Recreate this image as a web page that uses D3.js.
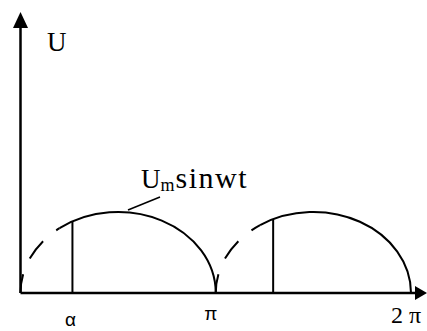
<!DOCTYPE html>
<html lang="en">
<head>
<meta charset="UTF-8">
<title>Rectified sine</title>
<script src="https://d3js.org/d3.v7.min.js"></script>
<style>
  body { margin: 0; background: #fff; }
  svg { display: block; }
  .serif { font-family: "Liberation Serif", "Times New Roman", Times, "DejaVu Serif", serif; }
  .sans { font-family: "Liberation Sans", Arial, "DejaVu Sans", sans-serif; }
</style>
</head>
<body>
<svg id="chart" width="427" height="331"></svg>
<script>
'use strict';

const PI = Math.PI;

// half waves: start / end in wt, firing angle alpha, where dashed part stops
const waveStart = [0, PI];
const waveEnd = [PI, 2 * PI];
const alphaAt = [0.266 * PI, 1.294 * PI];
const dashTo = [0.2 * PI, 1.227 * PI];
const amplitude = 1;

// axis labels
const tickNames = ['α', 'π', '2 π'];
const tickValues = [alphaAt[0], PI, 2 * PI];

const svg = d3.select('#chart');
const x = d3.scaleLinear().domain([0, 2 * PI]).range([20.5, 411]);
const y = d3.scaleLinear().domain([0, 1]).range([293, 212]);

// height of an arch (drawn as half ellipse) at a given wt
function archY(t, i) {
    const mid = (waveStart[i] + waveEnd[i]) / 2;
    const half = (waveEnd[i] - waveStart[i]) / 2;
    const u = (t - mid) / half;
    return amplitude * Math.sqrt(Math.max(0, 1 - u * u));
}

function arcPath(i, t0, t1) {
    const rx = (x(waveEnd[i]) - x(waveStart[i])) / 2;
    const ry = y(0) - y(amplitude);
    return `M${x(t0)},${y(archY(t0, i))} A${rx},${ry} 0 0 1 ${x(t1)},${y(archY(t1, i))}`;
}

const g = svg.append('g').attr('fill', 'none').attr('stroke', '#000');

waveStart.forEach((s, i) => {
    // dashed rise
    g.append('path')
        .attr('d', arcPath(i, s, dashTo[i]))
        .attr('stroke-width', 2)
        .attr('stroke-dasharray', '19 17 22 17');
    // solid part
    g.append('path')
        .attr('d', arcPath(i, dashTo[i], waveEnd[i]))
        .attr('stroke-width', 2);
    // firing line
    g.append('line')
        .attr('x1', x(alphaAt[i])).attr('x2', x(alphaAt[i]))
        .attr('y1', y(0)).attr('y2', y(archY(alphaAt[i], i)))
        .attr('stroke-width', 2);
});

// axes
g.append('line')
    .attr('x1', x(0)).attr('x2', 418)
    .attr('y1', y(0)).attr('y2', y(0))
    .attr('stroke-width', 2.5);
g.append('line')
    .attr('x1', x(0)).attr('x2', x(0))
    .attr('y1', y(0)).attr('y2', 26)
    .attr('stroke-width', 2.5);

svg.append('path')
    .attr('d', `M${x(0)},12 L${x(0) - 7.5},28 L${x(0) + 7.5},28 Z`)
    .attr('fill', '#000');
svg.append('path')
    .attr('d', `M427,${y(0)} L415,${y(0) - 7} L415,${y(0) + 7} Z`)
    .attr('fill', '#000');

// leader for the curve label
g.append('line')
    .attr('x1', 128).attr('y1', 210)
    .attr('x2', 160).attr('y2', 197)
    .attr('stroke-width', 1.5);

// texts
svg.append('text')
    .attr('class', 'serif')
    .attr('x', 47).attr('y', 51)
    .attr('font-size', 27)
    .text('U');

const lab = svg.append('text')
    .attr('class', 'serif')
    .attr('x', 141).attr('y', 188)
    .attr('font-size', 27);
lab.append('tspan').text('U');
lab.append('tspan').attr('font-size', 18).attr('dy', 3).text('m');
lab.append('tspan').attr('dy', -3).attr('dx', 1).attr('font-size', 30)
    .attr('letter-spacing', 1.5).text('sinwt');

svg.append('text')
    .attr('class', 'sans')
    .attr('x', x(tickValues[0]) - 2).attr('y', 326)
    .attr('text-anchor', 'middle')
    .attr('font-size', 19)
    .text(tickNames[0]);

svg.append('text')
    .attr('class', 'sans')
    .attr('x', x(tickValues[1]) - 5).attr('y', 320)
    .attr('text-anchor', 'middle')
    .attr('font-size', 19)
    .text(tickNames[1]);

const two = svg.append('text')
    .attr('class', 'serif')
    .attr('x', 391).attr('y', 323)
    .attr('font-size', 24);
two.append('tspan').text(tickNames[2].split(' ')[0]);
two.append('tspan').attr('dx', 6).attr('font-size', 24)
    .text(tickNames[2].split(' ')[1]);
</script>
</body>
</html>
